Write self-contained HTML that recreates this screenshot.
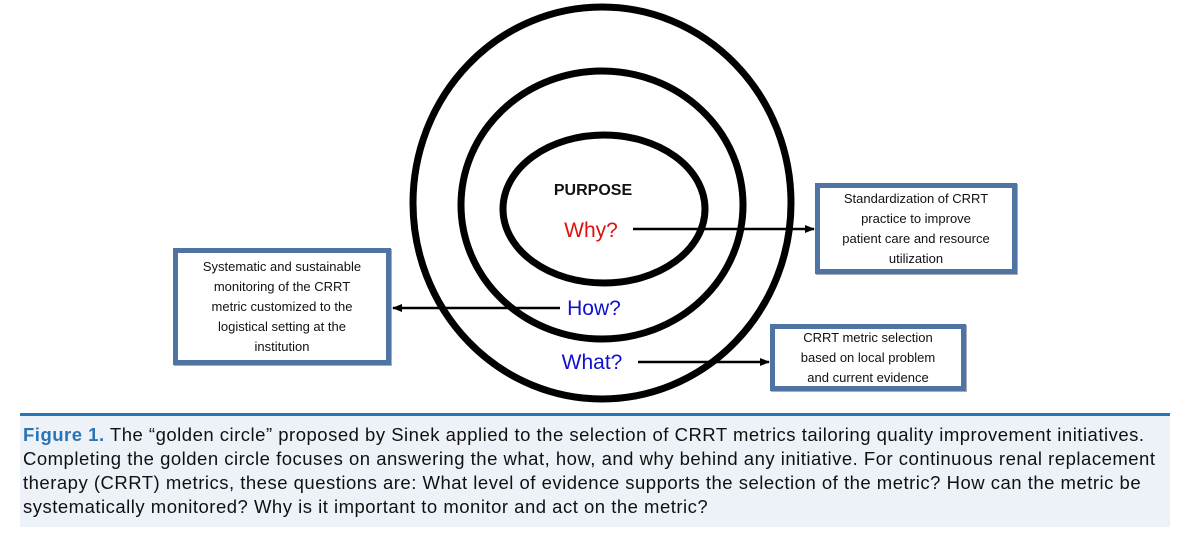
<!DOCTYPE html>
<html><head><meta charset="utf-8"><style>
body{margin:0;background:#fff;width:1200px;height:545px;overflow:hidden;font-family:"Liberation Sans",sans-serif;}
.box{position:absolute;border:5px solid #4f73a3;background:#fff;box-sizing:border-box;display:flex;align-items:center;justify-content:center;text-align:center;font-family:"Liberation Sans",sans-serif;font-size:13px;line-height:20px;color:#111;box-shadow:1px 1px 0 #aab;white-space:nowrap;}
.cap{position:absolute;left:20px;top:413px;width:1150px;height:114px;background:#edf2f8;border-top:3px solid #2a74b5;box-sizing:border-box;padding:7px 3px;font-size:18.5px;letter-spacing:0.5px;line-height:24px;color:#111;white-space:nowrap;}
.cap b{color:#2a74b5;}
</style></head><body>
<svg width="1200" height="410" style="position:absolute;left:0;top:0">
<defs><marker id="a" markerWidth="10" markerHeight="8" refX="9" refY="4" orient="auto" markerUnits="userSpaceOnUse"><path d="M0,0 L10,4 L0,8 Z" fill="#000"/></marker></defs>
<g fill="none" stroke="#000" stroke-width="7">
<ellipse cx="602" cy="203" rx="189" ry="196"/>
<ellipse cx="602" cy="205" rx="141" ry="134"/>
<ellipse cx="604" cy="209" rx="101" ry="74"/>
</g>
<g stroke="#000" stroke-width="2.5">
<line x1="633" y1="229" x2="814" y2="229" marker-end="url(#a)"/>
<line x1="560" y1="308" x2="393" y2="308" marker-end="url(#a)"/>
<line x1="638" y1="362" x2="769" y2="362" marker-end="url(#a)"/>
</g>
<text x="593" y="195" text-anchor="middle" font-family="Liberation Sans" font-weight="bold" font-size="16" fill="#111">PURPOSE</text>
<text x="591" y="237" text-anchor="middle" font-family="Liberation Sans" font-size="21" fill="#e01010">Why?</text>
<text x="594" y="315" text-anchor="middle" font-family="Liberation Sans" font-size="21" fill="#1010d0">How?</text>
<text x="592" y="369" text-anchor="middle" font-family="Liberation Sans" font-size="21" fill="#1010d0">What?</text>
</svg>
<div class="box" style="left:815px;top:183px;width:202px;height:91px;">Standardization of CRRT<br>practice to improve<br>patient care and resource<br>utilization</div>
<div class="box" style="left:173px;top:248px;width:218px;height:117px;">Systematic and sustainable<br>monitoring of the CRRT<br>metric customized to the<br>logistical setting at the<br>institution</div>
<div class="box" style="left:770px;top:324px;width:196px;height:67px;">CRRT metric selection<br>based on local problem<br>and current evidence</div>
<div class="cap"><b>Figure 1.</b> The “golden circle” proposed by Sinek applied to the selection of CRRT metrics tailoring quality improvement initiatives.<br>Completing the golden circle focuses on answering the what, how, and why behind any initiative. For continuous renal replacement<br>therapy (CRRT) metrics, these questions are: What level of evidence supports the selection of the metric? How can the metric be<br>systematically monitored? Why is it important to monitor and act on the metric?</div>
</body></html>
